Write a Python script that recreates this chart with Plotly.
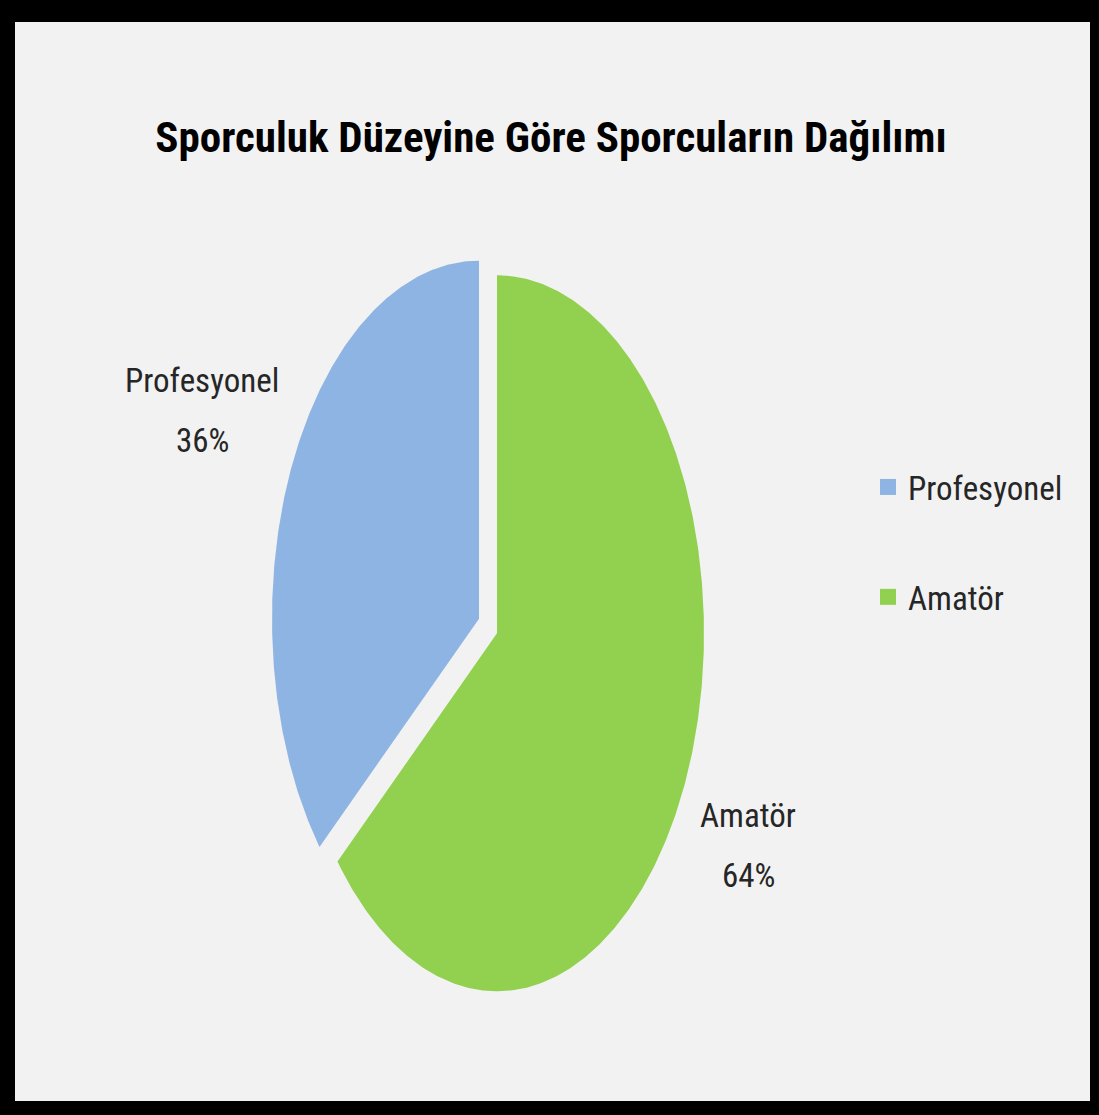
import math
import plotly.graph_objects as go

# ---- data ----
categories = ["Profesyonel", "Amatör"]
values = [36, 64]
colors = ["#8EB4E3", "#92D050"]
title_text = "Sporculuk Düzeyine Göre Sporcuların Dağılımı"

W, H = 1099, 1115
FONT = "Liberation Sans Narrow, Roboto Condensed, Arial Narrow, Roboto, sans-serif"

# pie geometry (pixel-like data space, y down)
cx, cy = 488, 626
rx, ry = 207, 358
explode = 0.048

total = sum(values)
order = [1, 0]  # Amatör starts at 12 o'clock, clockwise
fig = go.Figure()
start = 0.0
slices = {}
for idx in order:
    frac = values[idx] / total
    a0 = start
    a1 = start + frac * 360.0
    start = a1
    mid = math.radians((a0 + a1) / 2)
    ox = explode * rx * math.sin(mid)
    oy = -explode * ry * math.cos(mid)
    px, py = [cx + ox], [cy + oy]
    n = max(int((a1 - a0) * 2), 2)
    for k in range(n + 1):
        t = math.radians(a0 + (a1 - a0) * k / n)
        px.append(cx + ox + rx * math.sin(t))
        py.append(cy + oy - ry * math.cos(t))
    px.append(cx + ox)
    py.append(cy + oy)
    slices[idx] = (px, py)

for idx in range(len(categories)):
    px, py = slices[idx]
    fig.add_trace(go.Scatter(
        x=px, y=py, mode="lines", fill="toself",
        fillcolor=colors[idx], line=dict(width=0, color=colors[idx]),
        showlegend=False, hoverinfo="text",
        text=f"{categories[idx]}: {round(values[idx] / total * 100)}%",
    ))

# legend entries
for idx in range(len(categories)):
    fig.add_trace(go.Scatter(
        x=[None], y=[None], mode="markers", name=categories[idx],
        marker=dict(symbol="square", size=18, color=colors[idx]),
        legendgroup=categories[idx],
    ))

# data labels (name line and percent line)
label_pos = {0: (202, 380), 1: (748, 815)}
for idx in range(len(categories)):
    lx, ly = label_pos[idx]
    fig.add_annotation(
        x=lx, y=ly, xref="x", yref="y", text=categories[idx],
        showarrow=False, font=dict(family=FONT, size=33, color="#262626"),
    )
    fig.add_annotation(
        x=lx, y=ly + 60, xref="x", yref="y",
        text=f"{round(values[idx] / total * 100)}%",
        showarrow=False, font=dict(family=FONT, size=33, color="#262626"),
    )

# background panel
fig.add_shape(type="rect", xref="paper", yref="paper",
              x0=15 / W, x1=1090 / W, y0=1 - 1101 / H, y1=1 - 22 / H,
              fillcolor="#F2F2F2", line=dict(width=0), layer="below")

fig.update_layout(
    width=W, height=H,
    margin=dict(l=0, r=0, t=0, b=0),
    paper_bgcolor="#000000", plot_bgcolor="rgba(0,0,0,0)",
    title=dict(text=f"<b>{title_text}</b>", x=551 / W, xanchor="center",
               y=1 - 137 / H, yanchor="middle",
               font=dict(family=FONT, size=43, color="#000000")),
    xaxis=dict(range=[0, W], visible=False, fixedrange=True),
    yaxis=dict(range=[H, 0], visible=False, fixedrange=True),
    legend=dict(x=868 / W, y=1 - 459 / H, xanchor="left", yanchor="top",
                bgcolor="rgba(0,0,0,0)", tracegroupgap=64,
                font=dict(family=FONT, size=33, color="#262626")),
    showlegend=True,
)

fig.write_html("out.html", config={"displayModeBar": False},
               post_script="document.body.style.margin='0';document.body.style.padding='0';")
